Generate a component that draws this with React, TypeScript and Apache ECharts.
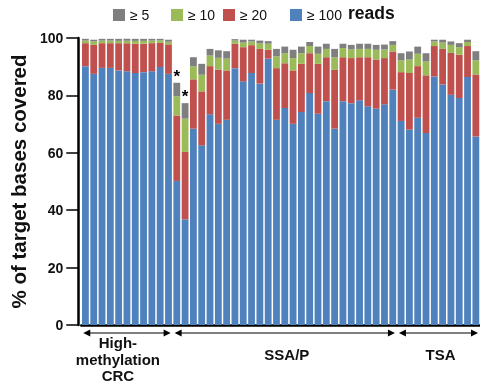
import React, { useEffect, useRef } from "react";
import * as echarts from "echarts";

// cumulative % of target bases covered at each read depth (per sample)
const samples: string[] = Array.from({ length: 48 }, (_, i) => `S${i + 1}`);
const ge100: number[] = [
  90.2, 87.5, 89.6, 89.6, 88.7, 88.4, 87.8, 88.1, 88.4, 89.9, 87.5,
  50.2, 36.8, 68.4, 62.6, 73.4, 70.1, 71.5, 89.5, 84.9, 87.8, 84.1, 92.8, 71.5, 75.6, 70.1, 74.2, 80.8, 73.6, 78.0, 68.4, 78.0, 77.3, 78.3, 76.2, 75.4, 76.9, 82.0,
  71.1, 68.1, 72.2, 66.9, 86.6, 83.8, 80.2, 79.1, 86.4, 65.7,
];
const ge20: number[] = [
  98.2, 97.6, 98.2, 98.2, 98.2, 98.2, 98.0, 98.0, 98.2, 98.3, 97.8,
  73.0, 60.3, 85.6, 81.4, 90.2, 89.0, 88.7, 98.0, 96.8, 97.5, 96.2, 95.9, 89.5, 91.2, 88.7, 91.0, 94.7, 91.0, 93.3, 88.9, 93.3, 93.0, 93.3, 93.3, 92.5, 93.0, 95.3,
  88.1, 87.8, 90.2, 87.0, 97.2, 96.2, 94.8, 94.2, 97.2, 87.3,
];
const ge10: number[] = [
  99.1, 98.8, 99.1, 99.1, 99.0, 99.0, 99.0, 99.0, 99.1, 99.2, 98.7,
  79.7, 71.9, 90.1, 87.2, 93.9, 93.1, 92.8, 99.1, 98.4, 98.8, 98.2, 98.0, 93.6, 94.7, 93.0, 94.7, 97.2, 94.5, 96.2, 93.3, 96.5, 96.0, 96.2, 96.2, 95.9, 96.0, 97.6,
  92.2, 92.5, 94.5, 91.8, 98.8, 98.4, 97.6, 96.8, 98.6, 92.2,
];
const ge5: number[] = [
  99.7, 99.4, 99.7, 99.7, 99.7, 99.7, 99.7, 99.7, 99.7, 99.7, 99.4,
  84.4, 77.3, 93.3, 91.0, 96.2, 95.7, 95.4, 99.6, 99.4, 99.4, 99.1, 98.9, 96.2, 97.0, 95.9, 97.0, 98.6, 97.0, 98.0, 96.2, 98.0, 97.6, 98.0, 98.0, 97.6, 97.7, 98.9,
  94.7, 95.3, 97.0, 94.7, 99.4, 99.4, 98.8, 98.2, 99.4, 95.4,
];
const starred: number[] = [11, 12];

const seriesNames: string[] = ["≥ 100", "≥ 20", "≥ 10", "≥ 5"];
const legendOrder: string[] = ["≥ 5", "≥ 10", "≥ 20", "≥ 100"];
const colors: Record<string, string> = {
  "≥ 100": "#4f81bd",
  "≥ 20": "#c0504d",
  "≥ 10": "#9bbb59",
  "≥ 5": "#7f7f7f",
};

const yTicks: number[] = [0, 20, 40, 60, 80, 100];
const groupLabels: string[] = ["High-\nmethylation\nCRC", "SSA/P", "TSA"];
const groupStart: number[] = [0, 11, 38];
const groupEnd: number[] = [10, 37, 47];

// layout only
const legendLeft = [113, 171, 223, 290];
const labelDx = [-9, 2, 2];
const labelY = [359, 354, 354];
const FONT = '"Liberation Sans", Arial, sans-serif';

export default function App() {
  const ref = useRef<HTMLDivElement>(null);
  useEffect(() => {
    if (!ref.current) return;
    const chart = echarts.init(ref.current, null, { renderer: "svg" });
    const cum = [ge100, ge20, ge10, ge5];
    const series = seriesNames.map((name, k) => ({
      name,
      type: "bar",
      stack: "total",
      barCategoryGap: "18%",
      itemStyle: { color: colors[name] },
      data: cum[k].map((v, i) => {
        const val = +(k === 0 ? v : v - cum[k - 1][i]).toFixed(2);
        if (k === 3 && starred.includes(i)) {
          return {
            value: val,
            label: {
              show: true,
              position: "top",
              distance: -2,
              formatter: "*",
              fontSize: 17,
              fontWeight: "bold",
              color: "#000",
              fontFamily: FONT,
            },
          };
        }
        return val;
      }),
    }));
    const legends = legendOrder.map((name, i) => ({
      data: [name],
      left: legendLeft[i],
      top: 8,
      padding: 0,
      itemWidth: 12,
      itemHeight: 12,
      icon: "rect",
      selectedMode: false,
      textStyle: { fontSize: 14, color: "#111", fontFamily: FONT },
    }));
    chart.setOption({
      animation: false,
      legend: legends,
      grid: { left: 73, right: 0, top: 38, bottom: 58 },
      xAxis: {
        type: "category",
        data: samples,
        axisLine: { lineStyle: { color: "#000", width: 2.5 } },
        axisTick: { show: false },
        axisLabel: { show: false },
      },
      yAxis: {
        type: "value",
        min: 0,
        max: 100,
        interval: 20,
        offset: 3,
        name: "% of target bases covered",
        nameLocation: "middle",
        nameGap: 30,
        nameTextStyle: { fontSize: 20.5, fontWeight: "bold", color: "#111", fontFamily: FONT },
        axisLine: { show: true, lineStyle: { color: "#000", width: 2.5 } },
        axisTick: { show: true, length: 12, lineStyle: { color: "#000", width: 1.5 } },
        splitLine: { show: false },
        axisLabel: {
          margin: 15,
          fontSize: 14,
          fontWeight: "bold",
          color: "#111",
          fontFamily: FONT,
          formatter: (v: number) => (yTicks.includes(v) ? String(v) : ""),
        },
      },
      series,
    });

    const px = (i: number) => chart.convertToPixel({ xAxisIndex: 0 }, i) as number;
    const band = px(1) - px(0);
    const yBase = chart.convertToPixel({ yAxisIndex: 0 }, 0) as number;
    const ay = yBase + 8;
    const els: any[] = [];
    groupLabels.forEach((label, g) => {
      const left = px(groupStart[g]) - band / 2 + 2;
      const right = px(groupEnd[g]) + band / 2 - 2;
      els.push({
        type: "line",
        shape: { x1: left + 2, y1: ay, x2: right - 2, y2: ay },
        style: { stroke: "#000", lineWidth: 1.2 },
      });
      els.push({
        type: "polygon",
        shape: { points: [[left, ay], [left + 7, ay - 3.5], [left + 7, ay + 3.5]] },
        style: { fill: "#000" },
      });
      els.push({
        type: "polygon",
        shape: { points: [[right, ay], [right - 7, ay - 3.5], [right - 7, ay + 3.5]] },
        style: { fill: "#000" },
      });
      els.push({
        type: "text",
        x: (left + right) / 2 + labelDx[g],
        y: labelY[g],
        style: {
          text: label,
          fontSize: 15,
          fontWeight: "bold",
          fontFamily: FONT,
          lineHeight: 16.5,
          fill: "#111",
          align: "center",
          verticalAlign: "middle",
        },
      });
    });
    els.push({
      type: "text",
      x: 348,
      y: 12.5,
      style: {
        text: "reads",
        fontSize: 17.5,
        fontWeight: "bold",
        fontFamily: FONT,
        fill: "#111",
        align: "left",
        verticalAlign: "middle",
      },
    });
    chart.setOption({ graphic: els });
    return () => chart.dispose();
  }, []);
  return (
    <div
      ref={ref}
      style={{ position: "fixed", left: 0, top: 0, width: 480, height: 383 }}
    />
  );
}
